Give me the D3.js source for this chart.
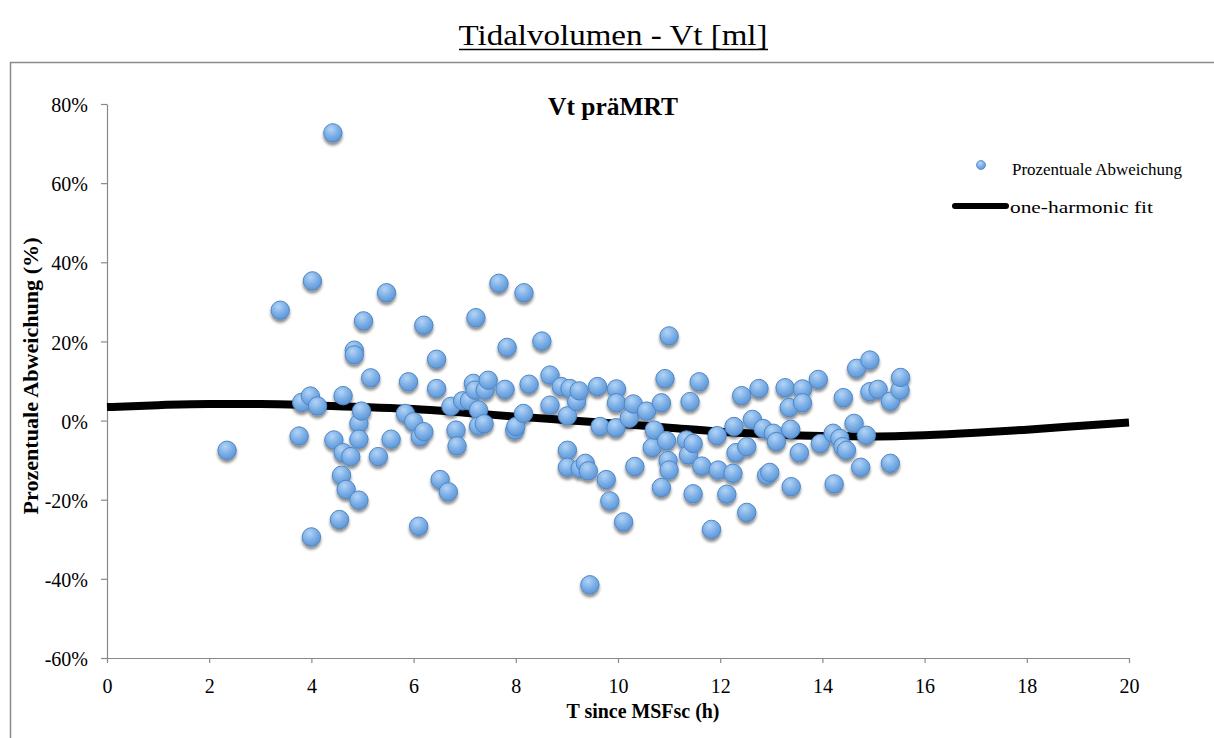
<!DOCTYPE html>
<html><head><meta charset="utf-8">
<script src="https://cdn.jsdelivr.net/npm/d3@7"></script>
<style>body{margin:0;background:#fff;}svg{display:block;}</style>
</head><body>
<script>
// Data
const hoursSinceMSF = [2.35,3.39,3.76,3.81,3.98,4.00,4.02,4.12,4.42,4.44,4.55,4.59,4.62,4.62,4.68,4.77,4.84,4.84,4.93,4.93,4.93,4.98,5.02,5.16,5.31,5.47,5.56,5.84,5.90,6.00,6.10,6.13,6.20,6.20,6.45,6.45,6.52,6.68,6.73,6.83,6.85,6.96,7.09,7.17,7.20,7.22,7.27,7.27,7.38,7.40,7.46,7.67,7.79,7.83,7.98,8.00,8.15,8.16,8.26,8.51,8.67,8.67,8.89,9.01,9.01,9.01,9.06,9.19,9.24,9.26,9.36,9.42,9.45,9.60,9.65,9.77,9.84,9.96,9.97,9.97,10.11,10.22,10.30,10.33,10.56,10.67,10.71,10.85,10.85,10.92,10.95,10.98,11.00,11.00,11.34,11.38,11.41,11.47,11.47,11.59,11.64,11.83,11.94,11.96,12.13,12.25,12.27,12.31,12.42,12.52,12.52,12.63,12.76,12.84,12.91,12.97,13.04,13.10,13.27,13.35,13.38,13.39,13.55,13.61,13.61,13.92,13.96,14.21,14.23,14.34,14.40,14.41,14.47,14.62,14.67,14.75,14.86,14.93,14.93,15.09,15.33,15.33,15.52,15.53];
const deviationPct = [-7.5,27.9,-3.9,4.6,6.2,-29.4,35.3,3.7,72.7,-4.9,-25.0,-13.8,6.3,-8.1,-17.4,-9.1,17.8,16.6,-0.7,-4.7,-20.1,2.4,25.2,10.8,-9.1,32.3,-4.7,1.8,9.8,-0.3,-26.7,-4.1,24.1,-2.8,15.5,8.1,-14.9,-18.0,3.6,-2.4,-6.4,5.0,5.0,9.4,7.7,26.0,2.7,-1.4,-0.8,7.7,10.2,34.7,7.9,18.5,-2.4,-1.5,1.8,32.3,9.2,20.1,11.5,3.9,8.6,1.2,-7.5,-11.8,8.1,4.8,7.5,-12.1,-10.8,-12.7,-41.5,8.6,-1.5,-14.9,-20.3,-1.8,8.0,4.5,-25.6,0.6,4.2,-11.6,2.4,-6.8,-2.4,4.5,-16.9,10.6,-5.1,-10.1,21.4,-12.5,-4.9,-8.7,4.8,-5.8,-18.5,9.8,-11.5,-27.5,-3.8,-12.5,-18.6,-13.3,-1.5,-8.1,6.3,-6.6,-23.2,0.3,8.1,-2.0,-13.8,-13.1,-3.2,-5.3,8.3,3.3,-2.2,-16.7,-8.1,8.0,4.5,10.4,-5.8,-3.2,-16.0,-4.5,-6.6,5.8,-7.5,-0.7,13.2,-11.8,-3.7,15.3,7.3,7.9,4.9,-10.8,7.7,10.9];
const fitHours = [0,1,2,3,4,5,6,7,8,9,10,11,12,13,14,15,16,17,18,19,20];
const fitPct = [3.4,3.9,4.2,4.2,3.9,3.4,2.9,2.0,1.0,0.1,-0.8,-1.8,-2.8,-3.5,-3.9,-4.0,-3.7,-3.1,-2.3,-1.4,-0.5];
const xTicks = [0,2,4,6,8,10,12,14,16,18,20];
const yTicks = [-60,-40,-20,0,20,40,60,80];
const pageTitle = "Tidalvolumen - Vt [ml]";
const chartTitle = "Vt präMRT";
const xLabel = "T since MSFsc (h)";
const yLabel = "Prozentuale Abweichung (%)";
const legendPoints = "Prozentuale Abweichung";
const legendFit = "one-harmonic fit";

const W = 1214, H = 738;
const FONT = "'Liberation Serif', 'DejaVu Serif', serif";
const AXIS = "#898989";
const svg = d3.select("body").append("svg").attr("width", W).attr("height", H);

const defs = svg.append("defs");
const grad = defs.append("radialGradient").attr("id","ball").attr("cx","40%").attr("cy","30%").attr("r","75%");
grad.append("stop").attr("offset","0%").attr("stop-color","#b4d4f6");
grad.append("stop").attr("offset","55%").attr("stop-color","#7aaee6");
grad.append("stop").attr("offset","100%").attr("stop-color","#5a92d4");
const sh = defs.append("filter").attr("id","shadow").attr("x","-50%").attr("y","-50%").attr("width","200%").attr("height","200%");
sh.append("feGaussianBlur").attr("in","SourceAlpha").attr("stdDeviation",1.6).attr("result","b");
sh.append("feOffset").attr("in","b").attr("dx",0).attr("dy",2.5).attr("result","o");
sh.append("feComponentTransfer").attr("in","o").attr("result","o2").append("feFuncA").attr("type","linear").attr("slope",0.45);
const m = sh.append("feMerge"); m.append("feMergeNode").attr("in","o2"); m.append("feMergeNode").attr("in","SourceGraphic");

// page title
svg.append("text").attr("x",613).attr("y",45).attr("text-anchor","middle")
  .attr("font-family",FONT).attr("font-size",30).attr("fill","#000")
  .attr("textLength",309).attr("lengthAdjust","spacingAndGlyphs").text(pageTitle);
svg.append("line").attr("x1",459).attr("x2",768).attr("y1",49.5).attr("y2",49.5).attr("stroke","#000").attr("stroke-width",1.3);

// frame
svg.append("rect").attr("x",10.5).attr("y",62.5).attr("width",1220).attr("height",700)
  .attr("fill","none").attr("stroke","#8a8a8a").attr("stroke-width",1.5);

const x = d3.scaleLinear().domain([0,20]).range([107,1129]);
const y = d3.scaleLinear().domain([-60,80]).range([658,104]);

const xAxis = svg.append("g").attr("transform","translate(0,658)")
  .call(d3.axisBottom(x).tickValues(xTicks).tickSize(5).tickSizeOuter(0).tickFormat(d3.format("d")));
const yAxis = svg.append("g").attr("transform","translate(107,0)")
  .call(d3.axisLeft(y).tickValues(yTicks).tickSize(6).tickSizeOuter(0).tickFormat(d => d + "%"));
[xAxis,yAxis].forEach(g => {
  g.select(".domain").attr("stroke",AXIS).attr("stroke-width",1.2);
  g.selectAll(".tick line").attr("stroke",AXIS).attr("stroke-width",1.2);
  g.selectAll("text").attr("font-family",FONT).attr("font-size",20).attr("fill","#000");
});
xAxis.selectAll("text").attr("y",35).attr("dy",0);
yAxis.selectAll("text").attr("x",-19).attr("dy","0.38em");

// titles
svg.append("text").attr("x",613).attr("y",115).attr("text-anchor","middle").attr("font-family",FONT)
  .attr("font-weight","bold").attr("font-size",26).attr("textLength",130).attr("lengthAdjust","spacingAndGlyphs").text(chartTitle);
svg.append("text").attr("x",643).attr("y",718).attr("text-anchor","middle").attr("font-family",FONT)
  .attr("font-weight","bold").attr("font-size",21).attr("textLength",153).attr("lengthAdjust","spacingAndGlyphs").text(xLabel);
svg.append("text").attr("transform","translate(38,376) rotate(-90)").attr("text-anchor","middle").attr("font-family",FONT)
  .attr("font-weight","bold").attr("font-size",22).attr("textLength",277).attr("lengthAdjust","spacingAndGlyphs").text(yLabel);

// fit line
const fitData = fitHours.map((h,i)=>({h, v: fitPct[i]}));
svg.append("path").datum(fitData)
  .attr("d", d3.line().x(d=>x(d.h)).y(d=>y(d.v)).curve(d3.curveMonotoneX))
  .attr("fill","none").attr("stroke","#000").attr("stroke-width",8);

// points
const pts = hoursSinceMSF.map((h,i)=>({h, v: deviationPct[i]}));
svg.append("g").attr("filter","url(#shadow)").selectAll("circle").data(pts).join("circle")
  .attr("cx",d=>x(d.h)).attr("cy",d=>y(d.v)).attr("r",9.2)
  .attr("fill","url(#ball)").attr("stroke","#4f86c4").attr("stroke-width",1);

// legend
const lg = svg.append("g");
lg.append("line").attr("x1",955).attr("x2",1006).attr("y1",206).attr("y2",206).attr("stroke","#000").attr("stroke-width",6).attr("stroke-linecap","round");
lg.append("circle").attr("cx",981).attr("cy",165).attr("r",4.5).attr("fill","url(#ball)").attr("stroke","#4f86c4").attr("stroke-width",0.8);
lg.append("text").attr("x",1012).attr("y",175).attr("font-family",FONT).attr("font-size",17)
  .attr("textLength",170).attr("lengthAdjust","spacingAndGlyphs").text(legendPoints);
lg.append("text").attr("x",1010).attr("y",212.5).attr("font-family",FONT).attr("font-size",17)
  .attr("textLength",143).attr("lengthAdjust","spacingAndGlyphs").text(legendFit);
</script>
</body></html>
